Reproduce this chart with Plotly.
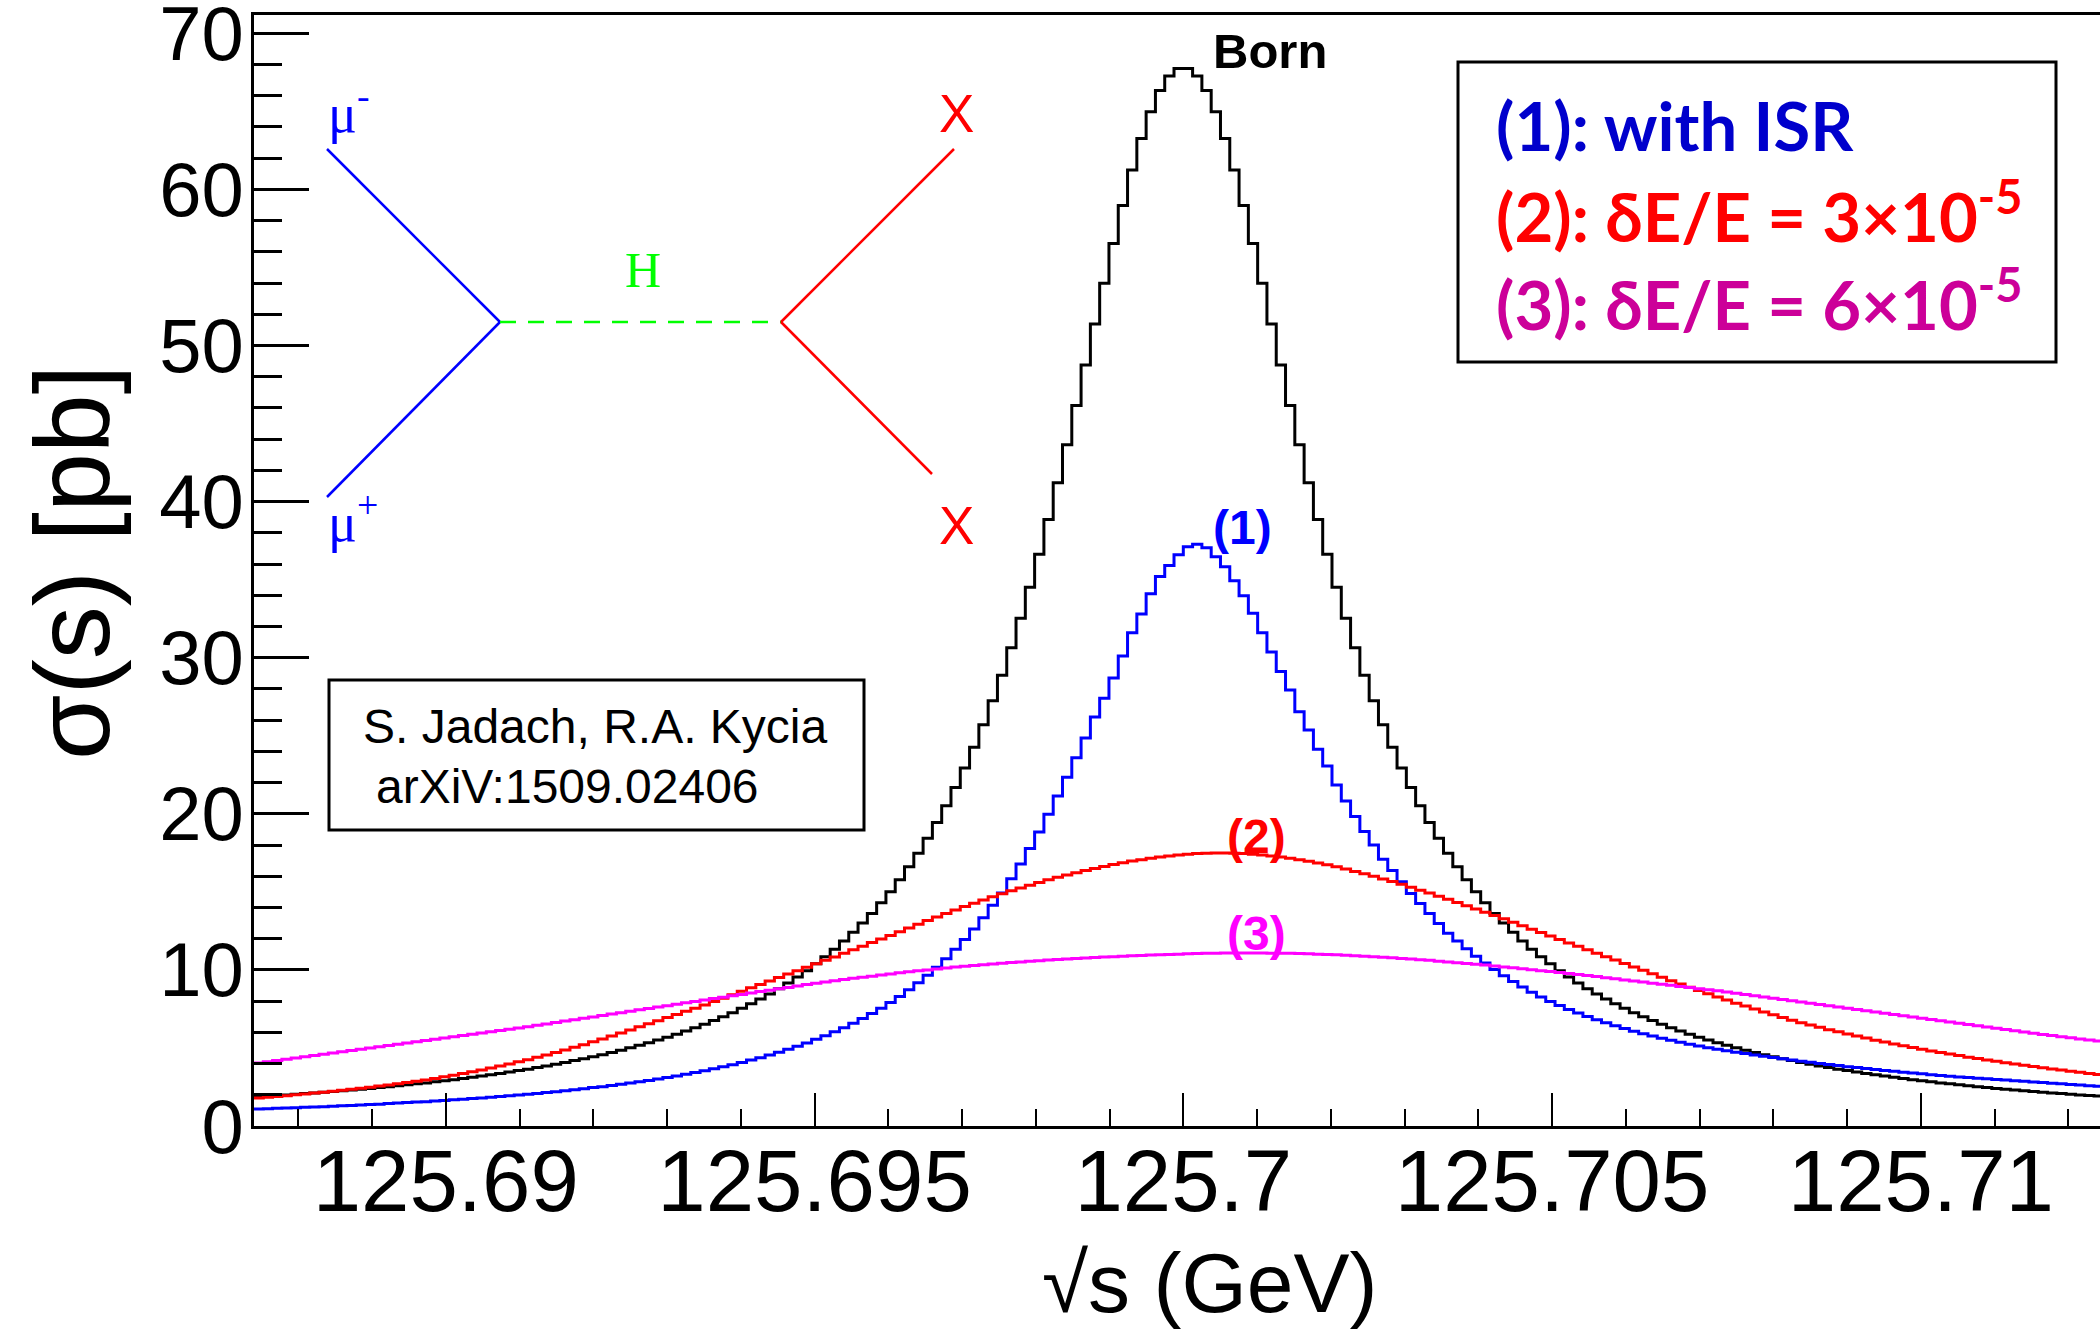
import numpy as np
import plotly.graph_objects as go

# ---------------- binning (histogram axis) ----------------
X_LO = 125.6874
BIN_W = 0.000126
N_BINS = 200

# ---------------- series values (pb), one value per bin ----------------
born = [
 1.88, 1.92, 1.95, 1.99, 2.03, 2.08, 2.12, 2.16, 2.21, 2.26,
 2.31, 2.36, 2.41, 2.46, 2.52, 2.58, 2.64, 2.70, 2.76, 2.83,
 2.90, 2.97, 3.04, 3.12, 3.20, 3.28, 3.37, 3.46, 3.55, 3.64,
 3.74, 3.85, 3.95, 4.07, 4.19, 4.31, 4.44, 4.57, 4.71, 4.85,
 5.01, 5.17, 5.33, 5.51, 5.69, 5.88, 6.09, 6.30, 6.52, 6.76,
 7.00, 7.26, 7.54, 7.83, 8.13, 8.46, 8.80, 9.16, 9.55, 9.95,
 10.39, 10.85, 11.33, 11.85, 12.41, 13.00, 13.62, 14.30, 15.01, 15.78,
 16.60, 17.48, 18.43, 19.44, 20.52, 21.68, 22.93, 24.27, 25.70, 27.24,
 28.88, 30.64, 32.52, 34.51, 36.63, 38.86, 41.20, 43.64, 46.16, 48.75,
 51.37, 53.98, 56.53, 58.97, 61.24, 63.26, 64.98, 66.33, 67.26, 67.74,
 67.74, 67.26, 66.33, 64.98, 63.26, 61.24, 58.97, 56.53, 53.98, 51.37,
 48.75, 46.16, 43.64, 41.20, 38.86, 36.63, 34.51, 32.52, 30.64, 28.88,
 27.24, 25.70, 24.27, 22.93, 21.68, 20.52, 19.44, 18.43, 17.48, 16.60,
 15.78, 15.01, 14.30, 13.62, 13.00, 12.41, 11.85, 11.33, 10.85, 10.39,
 9.95, 9.55, 9.16, 8.80, 8.46, 8.13, 7.83, 7.54, 7.26, 7.00,
 6.76, 6.52, 6.30, 6.09, 5.88, 5.69, 5.51, 5.33, 5.17, 5.01,
 4.85, 4.71, 4.57, 4.44, 4.31, 4.19, 4.07, 3.95, 3.85, 3.74,
 3.64, 3.55, 3.46, 3.37, 3.28, 3.20, 3.12, 3.04, 2.97, 2.90,
 2.83, 2.76, 2.70, 2.64, 2.58, 2.52, 2.46, 2.41, 2.36, 2.31,
 2.26, 2.21, 2.16, 2.12, 2.08, 2.03, 1.99, 1.95, 1.92, 1.88,
]

with_isr = [
 1.09, 1.11, 1.13, 1.15, 1.17, 1.20, 1.22, 1.24, 1.27, 1.30,
 1.32, 1.35, 1.38, 1.40, 1.44, 1.47, 1.50, 1.53, 1.56, 1.60,
 1.64, 1.68, 1.71, 1.76, 1.80, 1.84, 1.89, 1.94, 1.98, 2.03,
 2.08, 2.14, 2.20, 2.26, 2.32, 2.38, 2.46, 2.52, 2.60, 2.67,
 2.75, 2.84, 2.92, 3.01, 3.11, 3.20, 3.32, 3.43, 3.54, 3.66,
 3.79, 3.93, 4.07, 4.22, 4.37, 4.55, 4.73, 4.91, 5.11, 5.31,
 5.55, 5.78, 6.03, 6.29, 6.58, 6.89, 7.21, 7.55, 7.91, 8.30,
 8.73, 9.18, 9.66, 10.17, 10.71, 11.32, 11.95, 12.62, 13.34, 14.14,
 14.93, 15.84, 16.78, 17.77, 18.83, 19.97, 21.14, 22.34, 23.59, 24.86,
 26.20, 27.40, 28.70, 30.10, 31.60, 32.80, 34.10, 35.20, 35.90, 36.60,
 37.10, 37.26, 37.05, 36.47, 35.83, 34.93, 33.97, 32.84, 31.60, 30.37,
 29.11, 27.93, 26.54, 25.37, 24.13, 23.06, 21.85, 20.82, 19.82, 18.86,
 18.00, 17.08, 16.36, 15.65, 14.90, 14.26, 13.62, 12.98, 12.34, 11.85,
 11.35, 10.88, 10.44, 10.02, 9.62, 9.25, 8.90, 8.57, 8.26, 7.97,
 7.72, 7.47, 7.24, 7.02, 6.81, 6.61, 6.42, 6.24, 6.07, 5.91,
 5.76, 5.62, 5.49, 5.36, 5.24, 5.13, 5.02, 4.92, 4.82, 4.73,
 4.64, 4.55, 4.47, 4.39, 4.31, 4.23, 4.15, 4.08, 4.01, 3.94,
 3.87, 3.80, 3.74, 3.68, 3.62, 3.56, 3.50, 3.44, 3.39, 3.34,
 3.29, 3.24, 3.19, 3.14, 3.10, 3.06, 3.02, 2.98, 2.94, 2.90,
 2.86, 2.82, 2.78, 2.74, 2.70, 2.66, 2.62, 2.58, 2.54, 2.50,
]

spread_3e5 = [
 1.79, 1.84, 1.89, 1.94, 2.00, 2.05, 2.11, 2.17, 2.23, 2.29,
 2.36, 2.42, 2.49, 2.56, 2.63, 2.71, 2.79, 2.87, 2.95, 3.05,
 3.15, 3.25, 3.36, 3.47, 3.59, 3.71, 3.84, 3.97, 4.11, 4.25,
 4.40, 4.55, 4.71, 4.87, 5.04, 5.21, 5.39, 5.57, 5.76, 5.95,
 6.15, 6.35, 6.55, 6.75, 6.95, 7.15, 7.35, 7.55, 7.75, 7.97,
 8.19, 8.41, 8.63, 8.85, 9.07, 9.29, 9.51, 9.73, 9.95, 10.17,
 10.39, 10.61, 10.83, 11.06, 11.29, 11.52, 11.75, 11.98, 12.21, 12.44,
 12.68, 12.92, 13.16, 13.39, 13.62, 13.84, 14.06, 14.27, 14.48, 14.68,
 14.88, 15.07, 15.25, 15.43, 15.60, 15.77, 15.93, 16.08, 16.23, 16.37,
 16.50, 16.63, 16.75, 16.86, 16.97, 17.06, 17.15, 17.23, 17.30, 17.36,
 17.41, 17.45, 17.48, 17.49, 17.49, 17.48, 17.45, 17.41, 17.36, 17.30,
 17.23, 17.15, 17.06, 16.96, 16.85, 16.73, 16.60, 16.46, 16.31, 16.16,
 16.00, 15.83, 15.66, 15.48, 15.30, 15.11, 14.92, 14.72, 14.52, 14.32,
 14.11, 13.90, 13.69, 13.48, 13.27, 13.05, 12.83, 12.61, 12.39, 12.17,
 11.95, 11.73, 11.51, 11.29, 11.07, 10.85, 10.63, 10.41, 10.19, 9.97,
 9.75, 9.53, 9.31, 9.10, 8.89, 8.68, 8.47, 8.27, 8.07, 7.87,
 7.68, 7.49, 7.31, 7.13, 6.95, 6.78, 6.62, 6.47, 6.32, 6.17,
 6.03, 5.89, 5.76, 5.63, 5.50, 5.38, 5.26, 5.14, 5.03, 4.92,
 4.81, 4.71, 4.61, 4.51, 4.41, 4.32, 4.23, 4.14, 4.05, 3.97,
 3.89, 3.81, 3.73, 3.65, 3.58, 3.51, 3.44, 3.37, 3.30, 3.23,
]

spread_6e5 = [
 4.03, 4.11, 4.19, 4.27, 4.35, 4.43, 4.51, 4.59, 4.67, 4.75,
 4.83, 4.91, 4.99, 5.07, 5.15, 5.23, 5.31, 5.39, 5.47, 5.55,
 5.63, 5.71, 5.79, 5.87, 5.95, 6.03, 6.11, 6.19, 6.27, 6.36,
 6.45, 6.54, 6.63, 6.72, 6.81, 6.90, 6.99, 7.08, 7.17, 7.26,
 7.35, 7.44, 7.53, 7.62, 7.71, 7.80, 7.89, 7.98, 8.07, 8.16,
 8.25, 8.34, 8.43, 8.52, 8.61, 8.70, 8.79, 8.88, 8.97, 9.06,
 9.14, 9.22, 9.30, 9.38, 9.46, 9.53, 9.60, 9.67, 9.74, 9.81,
 9.88, 9.94, 10.00, 10.06, 10.12, 10.18, 10.23, 10.28, 10.33, 10.38,
 10.43, 10.47, 10.51, 10.55, 10.59, 10.63, 10.67, 10.70, 10.73, 10.76,
 10.79, 10.82, 10.85, 10.88, 10.91, 10.93, 10.95, 10.97, 10.99, 11.01,
 11.03, 11.05, 11.06, 11.07, 11.08, 11.09, 11.09, 11.09, 11.08, 11.07,
 11.07, 11.06, 11.05, 11.03, 11.01, 10.99, 10.97, 10.94, 10.91, 10.88,
 10.85, 10.81, 10.77, 10.73, 10.69, 10.65, 10.61, 10.56, 10.51, 10.46,
 10.41, 10.36, 10.31, 10.25, 10.19, 10.13, 10.07, 10.01, 9.95, 9.89,
 9.83, 9.77, 9.71, 9.64, 9.57, 9.50, 9.43, 9.36, 9.29, 9.22,
 9.15, 9.08, 9.01, 8.94, 8.87, 8.80, 8.73, 8.66, 8.58, 8.50,
 8.42, 8.34, 8.26, 8.18, 8.10, 8.02, 7.94, 7.86, 7.78, 7.70,
 7.62, 7.54, 7.46, 7.38, 7.30, 7.22, 7.14, 7.06, 6.98, 6.90,
 6.82, 6.74, 6.66, 6.58, 6.50, 6.42, 6.34, 6.26, 6.18, 6.10,
 6.02, 5.94, 5.86, 5.79, 5.72, 5.65, 5.58, 5.51, 5.44, 5.37,
]

# ---------------- axis ticks ----------------
X_TICKS = [125.69, 125.695, 125.7, 125.705, 125.71]
X_TICK_TEXT = ["125.69", "125.695", "125.7", "125.705", "125.71"]
Y_TICKS = [0, 10, 20, 30, 40, 50, 60, 70]
Y_TICK_TEXT = ["0", "10", "20", "30", "40", "50", "60", "70"]
X_RANGE = [125.6874, 125.712429]
Y_RANGE = [0, 71.17]

# ---------------- layout helpers ----------------
W, H = 2100, 1331
L, R, T, B = 254, 0, 15, 205
PW, PH = W - L - R, H - T - B


def px(xp, yp):
    """pixel position -> paper coordinates"""
    return (xp - L) / PW, (H - B - yp) / PH


edges = X_LO + BIN_W * np.arange(N_BINS + 1)


def step_xy(vals):
    return list(edges), list(vals) + [vals[-1]]


fig = go.Figure()
series = [
    (born, "black", "Born"),
    (with_isr, "#0000ff", "(1) with ISR"),
    (spread_3e5, "#ff0000", "(2) dE/E=3e-5"),
    (spread_6e5, "#ff00ff", "(3) dE/E=6e-5"),
]
for vals, col, name in series:
    xs, ys = step_xy(vals)
    fig.add_trace(go.Scatter(x=xs, y=ys, mode="lines", line=dict(color=col, width=3, shape="hv"),
                             name=name, hoverinfo="skip"))

SANS = "Liberation Sans"
SERIF = "Liberation Serif"

fig.update_layout(
    width=W, height=H,
    margin=dict(l=L, r=R, t=T, b=B, pad=0, autoexpand=False),
    paper_bgcolor="white", plot_bgcolor="white",
    showlegend=False,
    xaxis=dict(
        range=X_RANGE, tickvals=X_TICKS, ticktext=X_TICK_TEXT, automargin=False,
        ticks="inside", ticklen=33, tickwidth=2, tickcolor="black",
        showline=True, linewidth=3, linecolor="black", mirror=True,
        showgrid=False, zeroline=False,
        tickfont=dict(family=SANS, size=87, color="black"),
        ticklabelstandoff=-22, ticklabeloverflow="allow",
        minor=dict(ticks="inside", ticklen=17, tickwidth=2, tickcolor="black",
                   dtick=0.001, tick0=125.69, showgrid=False),
    ),
    yaxis=dict(
        range=Y_RANGE, tickvals=Y_TICKS, ticktext=Y_TICK_TEXT, automargin=False,
        ticks="inside", ticklen=55, tickwidth=3, tickcolor="black",
        showline=True, linewidth=3, linecolor="black", mirror=False,
        showgrid=False, zeroline=False,
        tickfont=dict(family=SANS, size=76, color="black"),
        ticklabelstandoff=-8, ticklabeloverflow="allow",
        minor=dict(ticks="inside", ticklen=28, tickwidth=3, tickcolor="black",
                   dtick=2, tick0=0, showgrid=False),
    ),
)

ann = []


def text(xp, yp, s, size, color="black", family=SANS, xanchor="center", yanchor="middle", angle=0):
    x, y = px(xp, yp)
    ann.append(dict(x=x, y=y, xref="paper", yref="paper", text=s, showarrow=False,
                    xanchor=xanchor, yanchor=yanchor, textangle=angle,
                    font=dict(family=family, size=size, color=color)))


# axis titles
text(72, 563, "σ(s) [pb]", 106, angle=-90)
text(1209, 1283, "√s (GeV)", 84)

# curve labels
text(1270, 51, "<b>Born</b>", 49)
text(1242, 527, "<b>(1)</b>", 48, color="#0000ff")
text(1256, 836, "<b>(2)</b>", 48, color="#ff0000")
text(1256, 933, "<b>(3)</b>", 48, color="#ff00ff")

# legend box text
LEG = "Lato"
text(1494, 125, "<b>(1): with ISR</b>", 67, color="#0000cc", family=LEG, xanchor="left")
text(1494, 212, "<b>(2): δE/E = 3×10<sup>-5</sup></b>", 67, color="#ff0000", family=LEG, xanchor="left")
text(1494, 300, "<b>(3): δE/E = 6×10<sup>-5</sup></b>", 67, color="#cc0099", family=LEG, xanchor="left")

# citation
text(361, 727, "S. Jadach, R.A. Kycia", 48, xanchor="left")
text(374, 786, "arXiV:1509.02406", 48, xanchor="left")

# Feynman diagram labels
text(326, 110, "μ<sup>-</sup>", 54, color="#0000ff", family=SERIF, xanchor="left")
text(326, 518, "μ<sup>+</sup>", 54, color="#0000ff", family=SERIF, xanchor="left")
text(643, 270, "H", 50, color="#00ff00", family=SERIF)
text(956, 113, "X", 53, color="#ff0000")
text(956, 525, "X", 53, color="#ff0000")

shapes = []


def line(x0, y0, x1, y1, color, width=2.5, dash="solid"):
    a, b = px(x0, y0)
    c, d = px(x1, y1)
    shapes.append(dict(type="line", xref="paper", yref="paper", x0=a, y0=b, x1=c, y1=d,
                       line=dict(color=color, width=width, dash=dash)))


def rect(x0, y0, x1, y1, width=3):
    a, b = px(x0, y0)
    c, d = px(x1, y1)
    shapes.append(dict(type="rect", xref="paper", yref="paper", x0=a, y0=d, x1=c, y1=b,
                       line=dict(color="black", width=width), fillcolor="rgba(0,0,0,0)"))


line(327, 149, 500, 322, "#0000ff")
line(500, 322, 327, 497, "#0000ff")
line(500, 322, 781, 322, "#00ff00", dash="16px,12px")
line(781, 322, 954, 149, "#ff0000")
line(781, 322, 932, 474, "#ff0000")

rect(1458, 62, 2056, 362)
rect(329, 680, 864, 830)

fig.update_layout(annotations=ann, shapes=shapes)
fig.write_html("out.html")
